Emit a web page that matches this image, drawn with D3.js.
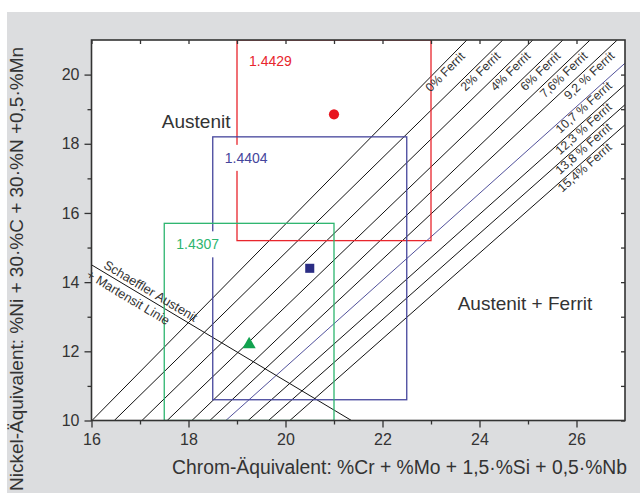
<!DOCTYPE html>
<html>
<head>
<meta charset="utf-8">
<script src="https://cdn.jsdelivr.net/npm/d3@7"></script>
<style>
  html, body { margin: 0; padding: 0; background: #fff; }
  svg { display: block; font-family: "Liberation Sans", Arial, sans-serif; }
</style>
</head>
<body>
<svg id="chart" width="640" height="502"></svg>
<script>
// Schaeffler diagram: Cr/Ni equivalents with ferrite lines and three steel grades

// Axis ticks
const crMajor = [16, 18, 20, 22, 24, 26];
const crMinor = [17, 19, 21, 23, 25];
const crAll = [16, 17, 18, 19, 20, 21, 22, 23, 24, 25, 26];
const niMajor = [10, 12, 14, 16, 18, 20];
const niMinor = [11, 13, 15, 17, 19];
const niAll = [10, 11, 12, 13, 14, 15, 16, 17, 18, 19, 20];

// Ferrite lines: lower end on Ni = 10, upper end where the line leaves the field
const ferritLabels = ["0% Ferrit", "2% Ferrit", "4% Ferrit", "6% Ferrit", "7,6% Ferrit",
  "9,2 % Ferrit", "10,7 % Ferrit", "12,3 % Ferrit", "13,8 % Ferrit", "15,4% Ferrit"];
const ferritStartCr = [16.01, 16.47, 17.04, 17.56, 18.07, 18.44, 18.77, 19.23, 19.65, 20.09];
const ferritEndCr = [23.74, 24.48, 25.10, 25.72, 26.28, 26.84, 27, 27, 27, 27];
const ferritEndNi = [21, 21, 21, 21, 21, 21, 20.33, 19.71, 19.13, 18.55];
const ferritHighlight = [false, false, false, false, false, false, true, false, false, false];

// Schaeffler austenite + martensite boundary
const martensitCr = [16, 21.36];
const martensitNi = [14.5, 10];
const martensitLabel = ["Schaeffler Austenit", "+ Martensit Linie"];

// Steel grades: composition ranges and typical point
const steelNames = ["1.4429", "1.4404", "1.4307"];
const steelCrMin = [19, 18.5, 17.5];
const steelCrMax = [23, 22.5, 21];
const steelNiMin = [15.2, 10.6, 10];
const steelNiMax = [21, 18.2, 15.7];
const steelCr = [21, 20.5, 19.25];
const steelNi = [18.85, 14.4, 12.2];
const steelColors = ["#e8262d", "#45459c", "#2db56f"];
const steelMarkColors = ["#e8141e", "#2b2d84", "#11a24f"];
const steelSymbols = [d3.symbolCircle, d3.symbolSquare, d3.symbolTriangle];

// Region names
const regionNames = ["Austenit", "Austenit + Ferrit"];
const regionCr = [17.45, 23.55];
const regionNi = [18.45, 13.2];

const xTitle = "Chrom-Äquivalent: %Cr + %Mo + 1,5·%Si + 0,5·%Nb";
const yTitle = "Nickel-Äquivalent: %Ni + 30·%C + 30·%N +0,5·%Mn";

const svg = d3.select("#chart");
const W = 640, H = 502;
const m = { left: 91.5, right: 625, top: 40, bottom: 420.5 };

const x = d3.scaleLinear().domain([16, 27]).range([m.left, m.right]);
const y = d3.scaleLinear().domain([10, 21]).range([m.bottom, m.top]);

const ink = "#333";

// Grey panel
svg.append("rect").attr("x", 7).attr("y", 12).attr("width", W - 7).attr("height", 481)
  .attr("fill", "#dcdddf");

// Plot field
svg.append("rect").attr("x", m.left).attr("y", m.top)
  .attr("width", m.right - m.left).attr("height", m.bottom - m.top).attr("fill", "#fff");

svg.append("clipPath").attr("id", "field").append("rect")
  .attr("x", m.left).attr("y", m.top)
  .attr("width", m.right - m.left).attr("height", m.bottom - m.top);

const field = svg.append("g").attr("clip-path", "url(#field)");

// Ferrite lines
const ferrit = ferritLabels.map((t, i) => ({
  label: t,
  x0: x(ferritStartCr[i]), y0: y(10),
  x1: x(ferritEndCr[i]), y1: y(ferritEndNi[i]),
  hi: ferritHighlight[i]
}));

field.selectAll("line.ferrit").data(ferrit).join("line")
  .attr("class", "ferrit")
  .attr("x1", d => d.x0).attr("y1", d => d.y0)
  .attr("x2", d => d.x1).attr("y2", d => d.y1)
  .attr("stroke", d => d.hi ? "#3d3d8f" : "#111")
  .attr("stroke-width", d => d.hi ? 0.9 : 1);

// Ferrite labels, running along each line just below its upper end
ferrit.forEach(d => {
  const len = Math.hypot(d.x1 - d.x0, d.y1 - d.y0);
  const ux = (d.x1 - d.x0) / len, uy = (d.y1 - d.y0) / len;
  const px = -uy, py = ux;
  const top = d.y1 <= m.top + 0.5;
  const back = top ? 13 : 25;
  const off = top ? 11 : 9.5;
  const tx = d.x1 - back * ux + off * px;
  const ty = d.y1 - back * uy + off * py;
  const ang = Math.atan2(uy, ux) * 180 / Math.PI;
  svg.append("text")
    .attr("transform", `translate(${tx},${ty}) rotate(${ang})`)
    .attr("text-anchor", "end")
    .attr("font-size", 12.3).attr("fill", ink)
    .text(d.label);
});

// Austenite + martensite line
const mx0 = x(martensitCr[0]), my0 = y(martensitNi[0]);
const mx1 = x(martensitCr[1]), my1 = y(martensitNi[1]);
field.append("line")
  .attr("x1", mx0).attr("y1", my0).attr("x2", mx1).attr("y2", my1)
  .attr("stroke", "#111").attr("stroke-width", 1);
{
  const len = Math.hypot(mx1 - mx0, my1 - my0);
  const ux = (mx1 - mx0) / len, uy = (my1 - my0) / len;
  const px = -uy, py = ux;
  const ang = Math.atan2(uy, ux) * 180 / Math.PI;
  const place = [[11, -3.5], [1, 13.5]];
  martensitLabel.forEach((t, i) => {
    const [a, o] = place[i];
    svg.append("text")
      .attr("transform", `translate(${mx0 + a * ux + o * px},${my0 + a * uy + o * py}) rotate(${ang})`)
      .attr("font-size", 12.8).attr("fill", ink)
      .text(t);
  });
}

// Composition ranges
const steels = steelNames.map((n, i) => ({
  name: n, crMin: steelCrMin[i], crMax: steelCrMax[i], niMin: steelNiMin[i], niMax: steelNiMax[i],
  cr: steelCr[i], ni: steelNi[i], color: steelColors[i], mark: steelMarkColors[i], sym: steelSymbols[i]
}));

field.selectAll("rect.range").data(steels).join("rect")
  .attr("class", "range")
  .attr("x", d => x(d.crMin)).attr("y", d => y(d.niMax))
  .attr("width", d => x(d.crMax) - x(d.crMin))
  .attr("height", d => y(d.niMin) - y(d.niMax))
  .attr("fill", "none").attr("stroke", d => d.color).attr("stroke-width", 1.3);

// Grade names on a white patch inside the top-left corner of each range
steels.forEach(d => {
  const g = svg.append("g");
  const bg = g.append("rect").attr("fill", "#fff");
  const t = g.append("text")
    .attr("x", x(d.crMin) + 12).attr("y", y(d.niMax) + 26)
    .attr("font-size", 14).attr("fill", d.color)
    .text(d.name);
  const b = t.node().getBBox();
  bg.attr("x", b.x - 3).attr("y", b.y - 5).attr("width", b.width + 6).attr("height", b.height + 10);
});

// Typical compositions
svg.selectAll("path.mark").data(steels).join("path")
  .attr("class", "mark")
  .attr("transform", d => `translate(${x(d.cr)},${y(d.ni)})`)
  .attr("d", d => d3.symbol().type(d.sym).size(d.sym === d3.symbolTriangle ? 75 : 82)())
  .attr("fill", d => d.mark);

// Region names
regionNames.forEach((t, i) => {
  svg.append("text").attr("x", x(regionCr[i])).attr("y", y(regionNi[i]))
    .attr("font-size", 19).attr("fill", ink).text(t);
});

// Axes
const axisStyle = g => {
  g.selectAll(".domain").remove();
  g.selectAll("line").attr("stroke", ink).attr("stroke-width", 1.3);
  g.selectAll("text").attr("fill", ink).attr("font-size", 16)
    .attr("font-family", "Liberation Sans, Arial, sans-serif");
};

svg.append("g").attr("transform", `translate(0,${m.bottom})`)
  .call(d3.axisBottom(x).tickValues(crMajor).tickSize(7).tickPadding(6).tickFormat(d3.format("d")))
  .call(axisStyle);
svg.append("g").attr("transform", `translate(0,${m.bottom})`)
  .call(d3.axisBottom(x).tickValues(crMinor).tickSize(4).tickFormat(""))
  .call(axisStyle);
svg.append("g").attr("transform", `translate(${m.left},0)`)
  .call(d3.axisLeft(y).tickValues(niMajor).tickSize(7).tickPadding(5).tickFormat(d3.format("d")))
  .call(axisStyle);
svg.append("g").attr("transform", `translate(${m.left},0)`)
  .call(d3.axisLeft(y).tickValues(niMinor).tickSize(4).tickFormat(""))
  .call(axisStyle);
svg.append("g").attr("transform", `translate(0,${m.top})`)
  .call(d3.axisTop(x).tickValues(crAll).tickSize(-4).tickFormat(""))
  .call(axisStyle);
svg.append("g").attr("transform", `translate(${m.right},0)`)
  .call(d3.axisRight(y).tickValues(niAll).tickSize(-4).tickFormat(""))
  .call(axisStyle);

// Frame
svg.append("rect").attr("x", m.left).attr("y", m.top)
  .attr("width", m.right - m.left).attr("height", m.bottom - m.top)
  .attr("fill", "none").attr("stroke", ink).attr("stroke-width", 1.6);

// Axis titles
svg.append("text").attr("x", 627).attr("y", 474)
  .attr("text-anchor", "end").attr("font-size", 19.3).attr("fill", ink)
  .text(xTitle);
svg.append("text").attr("transform", "translate(23,269) rotate(-90)")
  .attr("text-anchor", "middle").attr("font-size", 19).attr("fill", ink)
  .text(yTitle);
</script>
</body>
</html>
